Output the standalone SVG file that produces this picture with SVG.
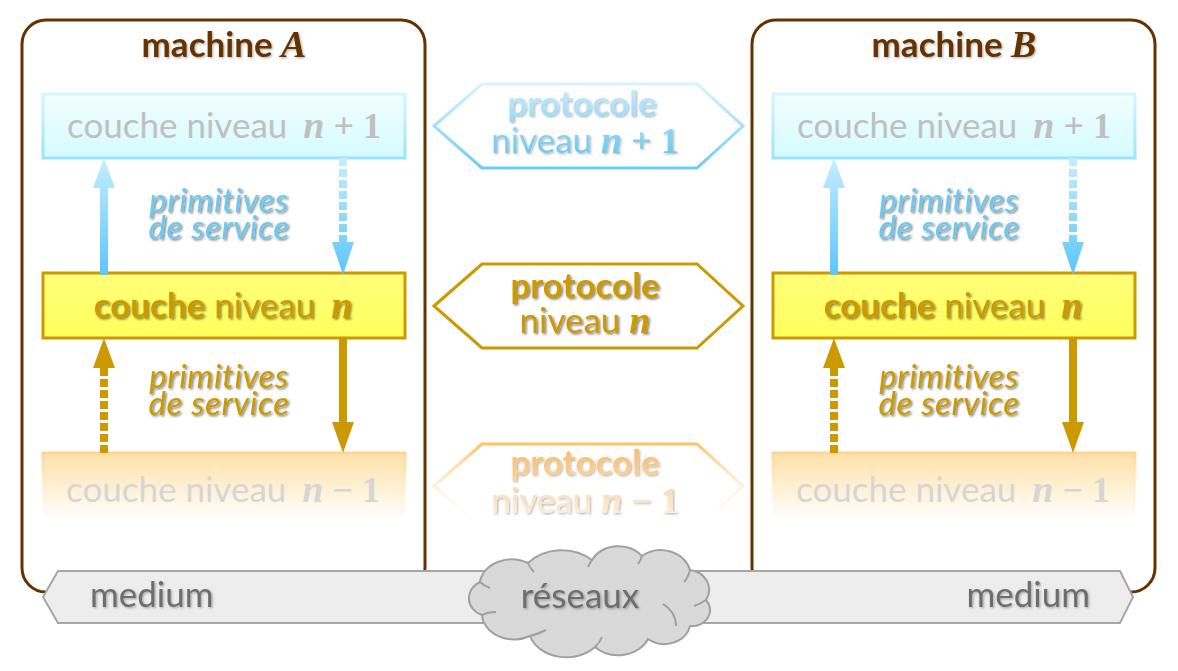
<svg xmlns="http://www.w3.org/2000/svg" width="1178" height="671" viewBox="0 0 1178 671">
<defs>
<style>
.sans{font-family:Lato,"Liberation Sans",sans-serif;font-size:35px}
.b{font-weight:bold}
.it{font-style:italic;font-size:33px;letter-spacing:0.6px}
.m{font-family:"Liberation Serif","DejaVu Serif",serif;font-weight:bold;font-style:italic;font-size:38px}
.mr{font-family:"Liberation Serif","DejaVu Serif",serif;font-weight:bold;font-size:36px}
.mbox{fill:none;stroke:#663300;stroke-width:3}
.title{fill:#663300}
.up1{fill:url(#gUp);stroke:url(#gUpS);stroke-width:3}
.yel{fill:url(#gY);stroke:#cc9900;stroke-width:3}
.dn1{fill:url(#gDn);stroke:url(#gDnS);stroke-width:3}
.tgray{fill:#c0c0c0}
.tgray2{fill:#d6d6d6}
.tgold{fill:#cc9900}
.tblue{fill:#6cc8f0}
.hexT{fill:#fff;stroke:url(#gHexT);stroke-width:3}
.hexM{fill:#fff;stroke:#cc9900;stroke-width:3}
.hexB{fill:#fff;stroke:url(#gHexB);stroke-width:3}
.bar{fill:#ededed;stroke:#a6a6a6;stroke-width:2}
.tbar{fill:#6e6e6e}
.cloud{fill:#d9d9d9;stroke:#a0a0a0;stroke-width:2}
.inner{fill:none;stroke:#a0a0a0;stroke-width:2}
.ablue{fill:url(#gArB)}
.agold{fill:#cc9900}
</style>
<linearGradient id="gUp" gradientUnits="userSpaceOnUse" x1="0" y1="94" x2="0" y2="158"><stop offset="0" stop-color="#f2feff"/><stop offset="1" stop-color="#d4fbff"/></linearGradient>
<linearGradient id="gUpS" gradientUnits="userSpaceOnUse" x1="0" y1="94" x2="0" y2="158"><stop offset="0" stop-color="#d6f5ff"/><stop offset="1" stop-color="#9be3fa"/></linearGradient>
<linearGradient id="gY" gradientUnits="userSpaceOnUse" x1="0" y1="273" x2="0" y2="338"><stop offset="0" stop-color="#ffff7a"/><stop offset="1" stop-color="#ffff5c"/></linearGradient>
<linearGradient id="gDn" gradientUnits="userSpaceOnUse" x1="0" y1="453" x2="0" y2="520"><stop offset="0" stop-color="#ffe0a6"/><stop offset="1" stop-color="#ffffff"/></linearGradient>
<linearGradient id="gDnS" gradientUnits="userSpaceOnUse" x1="0" y1="453" x2="0" y2="520"><stop offset="0" stop-color="#ffd596"/><stop offset="1" stop-color="#ffffff" stop-opacity="0"/></linearGradient>
<linearGradient id="gArB" gradientUnits="userSpaceOnUse" x1="0" y1="158" x2="0" y2="275"><stop offset="0" stop-color="#c6edff"/><stop offset="1" stop-color="#5cc6fa"/></linearGradient>
<linearGradient id="gHexT" gradientUnits="userSpaceOnUse" x1="0" y1="84" x2="0" y2="168"><stop offset="0" stop-color="#d8f3ff"/><stop offset="1" stop-color="#6ccbf6"/></linearGradient>
<linearGradient id="gHexB" gradientUnits="userSpaceOnUse" x1="0" y1="444" x2="0" y2="528"><stop offset="0" stop-color="#ffc266"/><stop offset="1" stop-color="#ffffff" stop-opacity="0"/></linearGradient>
<linearGradient id="gTxtT" gradientUnits="userSpaceOnUse" x1="0" y1="90" x2="0" y2="155"><stop offset="0" stop-color="#c4eafc"/><stop offset="1" stop-color="#6cc8f0"/></linearGradient>
<linearGradient id="gTxtB" gradientUnits="userSpaceOnUse" x1="0" y1="452" x2="0" y2="515"><stop offset="0" stop-color="#f6bf6c"/><stop offset="1" stop-color="#ffeedd"/></linearGradient>
<filter id="sh" x="-10%" y="-20%" width="120%" height="150%"><feDropShadow dx="1.5" dy="1.5" stdDeviation="0.9" flood-color="#000" flood-opacity="0.5"/></filter>
<filter id="shl" x="-10%" y="-20%" width="120%" height="150%"><feDropShadow dx="1.2" dy="1.2" stdDeviation="0.9" flood-color="#000" flood-opacity="0.3"/></filter>
</defs>

<rect width="1178" height="671" fill="#fff"/>

<g id="machineA">
<rect class="mbox" x="22" y="20" width="403" height="572" rx="24"/>
<text class="sans b title" x="224" y="57" text-anchor="middle" filter="url(#shl)">machine <tspan class="m">A</tspan></text>
</g>
<g id="machineB">
<rect class="mbox" x="752" y="20" width="403" height="572" rx="24"/>
<text class="sans b title" x="954" y="57" text-anchor="middle" filter="url(#shl)">machine <tspan class="m">B</tspan></text>
</g>

<g id="A-layer-n-plus-1">
<rect class="up1" x="43" y="94" width="362" height="64"/>
<text class="sans tgray" x="224" y="138" text-anchor="middle">couche niveau<tspan class="m" dx="16">n</tspan><tspan class="mr"> + 1</tspan></text>
</g>
<g id="A-layer-n">
<rect class="yel" x="43" y="273" width="362" height="65"/>
<text class="sans tgold" x="223" y="318" text-anchor="middle" filter="url(#sh)"><tspan class="b">couche</tspan> niveau<tspan class="m" dx="16">n</tspan></text>
</g>
<g id="A-layer-n-minus-1">
<rect class="dn1" x="43" y="453" width="362" height="70"/>
<text class="sans tgray2" x="223" y="502" text-anchor="middle">couche niveau<tspan class="m" dx="16">n</tspan><tspan class="mr"> − 1</tspan></text>
</g>

<g id="B-layer-n-plus-1">
<rect class="up1" x="773" y="94" width="362" height="64"/>
<text class="sans tgray" x="954" y="138" text-anchor="middle">couche niveau<tspan class="m" dx="16">n</tspan><tspan class="mr"> + 1</tspan></text>
</g>
<g id="B-layer-n">
<rect class="yel" x="773" y="273" width="362" height="65"/>
<text class="sans tgold" x="953" y="318" text-anchor="middle" filter="url(#sh)"><tspan class="b">couche</tspan> niveau<tspan class="m" dx="16">n</tspan></text>
</g>
<g id="B-layer-n-minus-1">
<rect class="dn1" x="773" y="453" width="362" height="70"/>
<text class="sans tgray2" x="953" y="502" text-anchor="middle">couche niveau<tspan class="m" dx="16">n</tspan><tspan class="mr"> − 1</tspan></text>
</g>

<g id="protocol-n-plus-1">
<polygon class="hexT" points="434,126 482,84 697,84 743,126 697,168 482,168"/>
<text class="sans" text-anchor="middle" fill="url(#gTxtT)" filter="url(#shl)"><tspan class="b" x="582" y="116">protocole</tspan><tspan x="585" y="153">niveau <tspan class="m">n</tspan><tspan class="mr"> + 1</tspan></tspan></text>
</g>
<g id="protocol-n">
<polygon class="hexM" points="434,306 482,264 697,264 743,306 697,348 482,348"/>
<text class="sans tgold" text-anchor="middle" filter="url(#sh)"><tspan class="b" x="585" y="298">protocole</tspan><tspan x="585" y="333">niveau <tspan class="m">n</tspan></tspan></text>
</g>
<g id="protocol-n-minus-1">
<polygon class="hexB" points="434,486 482,444 697,444 743,486 697,528 482,528"/>
<text class="sans" text-anchor="middle" fill="url(#gTxtB)" filter="url(#shl)"><tspan class="b" x="585" y="475">protocole</tspan><tspan x="585" y="513">niveau <tspan class="m">n</tspan><tspan class="mr"> − 1</tspan></tspan></text>
</g>

<g id="connectors">
<!-- machine A -->
<rect class="ablue" x="100" y="186" width="8" height="89"/>
<polygon class="ablue" points="93,188 104,158 115,188"/>
<line x1="343" y1="158" x2="343" y2="243" stroke="url(#gArB)" stroke-width="8" stroke-dasharray="8,3"/>
<polygon class="ablue" points="332,242 343,275 354,242"/>
<text class="sans it tblue" text-anchor="middle" filter="url(#sh)"><tspan x="219" y="212">primitives</tspan><tspan x="219" y="239">de service</tspan></text>
<rect class="agold" x="339" y="338" width="8" height="86"/>
<polygon class="agold" points="332,422 343,453 354,422"/>
<line x1="104" y1="453" x2="104" y2="367" stroke="#cc9900" stroke-width="8" stroke-dasharray="8,3"/>
<polygon class="agold" points="93,368 104,338 115,368"/>
<text class="sans it tgold" text-anchor="middle" filter="url(#sh)"><tspan x="219" y="388">primitives</tspan><tspan x="219" y="415">de service</tspan></text>
<!-- machine B -->
<rect class="ablue" x="830" y="186" width="8" height="89"/>
<polygon class="ablue" points="823,188 834,158 845,188"/>
<line x1="1073" y1="158" x2="1073" y2="243" stroke="url(#gArB)" stroke-width="8" stroke-dasharray="8,3"/>
<polygon class="ablue" points="1062,242 1073,275 1084,242"/>
<text class="sans it tblue" text-anchor="middle" filter="url(#sh)"><tspan x="949" y="212">primitives</tspan><tspan x="949" y="239">de service</tspan></text>
<rect class="agold" x="1069" y="338" width="8" height="86"/>
<polygon class="agold" points="1062,422 1073,453 1084,422"/>
<line x1="834" y1="453" x2="834" y2="367" stroke="#cc9900" stroke-width="8" stroke-dasharray="8,3"/>
<polygon class="agold" points="823,368 834,338 845,368"/>
<text class="sans it tgold" text-anchor="middle" filter="url(#sh)"><tspan x="949" y="388">primitives</tspan><tspan x="949" y="415">de service</tspan></text>
</g>

<g id="medium">
<path class="bar" d="M58,571 L1120,571 L1133,597 L1120,623 L58,623 L43,597 Z"/>
<text class="sans tbar" x="90" y="607" filter="url(#shl)">medium</text>
<text class="sans tbar" x="1090" y="607" text-anchor="end" filter="url(#shl)">medium</text>
</g>

<g id="reseaux">
<path class="cloud" d="M480,582 A32,26 0 0 1 528,563 A46,40 0 0 1 592,560 A30,26 0 0 1 642,556 A30,26 0 0 1 690,570 A22,20 0 0 1 706,600 A18,16 0 0 1 690,626 A26,22 0 0 1 648,639 A32,26 0 0 1 595,647 A38,30 0 0 1 530,636 A32,26 0 0 1 482,615 A20,18 0 0 1 480,582 Z"/>
<path class="inner" d="M480,582 Q484,586 490,588 M528,563 Q530,568 534,572 M592,560 Q590,563 588,567 M642,556 Q641,560 638,564 M690,570 Q688,578 684,582 M706,600 Q700,604 694,606 M663,604 Q676,612 676,626 M482,615 Q488,612 496,612 M530,636 Q538,634 546,630 M595,647 Q600,642 602,637"/>
<text class="sans tbar" x="580" y="608" text-anchor="middle" filter="url(#shl)">réseaux</text>
</g>
</svg>
